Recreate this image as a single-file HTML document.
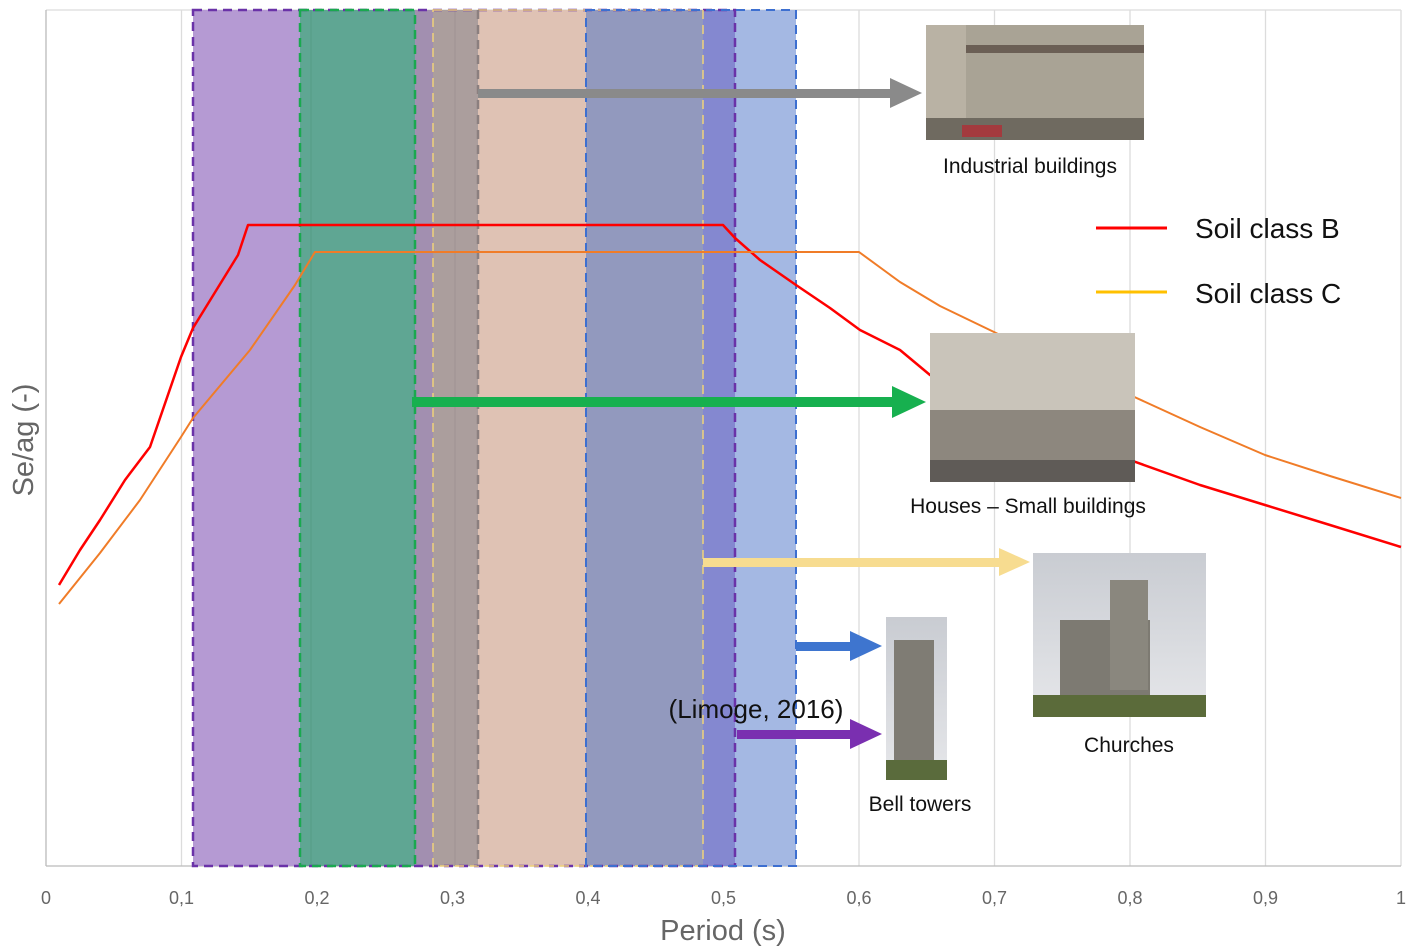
<!DOCTYPE html>
<html><head><meta charset="utf-8"><style>
html,body{margin:0;padding:0;background:#fff;}
svg{display:block;font-family:"Liberation Sans",sans-serif;}
</style></head><body>
<svg width="1417" height="949" viewBox="0 0 1417 949">
<defs>
<linearGradient id="sky" x1="0" y1="0" x2="0" y2="1"><stop offset="0" stop-color="#c9ccd2"/><stop offset="1" stop-color="#e6e7ea"/></linearGradient>
</defs>
<g stroke="#dcdcdc" stroke-width="1.3">
<line x1="46" y1="10" x2="1401" y2="10"/>
<line x1="181.5" y1="10" x2="181.5" y2="866"/><line x1="317" y1="10" x2="317" y2="866"/>
<line x1="452.5" y1="10" x2="452.5" y2="866"/><line x1="588" y1="10" x2="588" y2="866"/>
<line x1="723.5" y1="10" x2="723.5" y2="866"/><line x1="859" y1="10" x2="859" y2="866"/>
<line x1="994.5" y1="10" x2="994.5" y2="866"/><line x1="1130" y1="10" x2="1130" y2="866"/>
<line x1="1265.5" y1="10" x2="1265.5" y2="866"/><line x1="1401" y1="10" x2="1401" y2="866"/>
</g>
<line x1="46" y1="10" x2="46" y2="866" stroke="#bbb" stroke-width="1.3"/>
<line x1="46" y1="866" x2="1401" y2="866" stroke="#bbb" stroke-width="1.3"/>
<rect x="193" y="10" width="107" height="856" fill="#b59ad3"/>
<rect x="300" y="10" width="115" height="856" fill="#5fa693"/>
<rect x="415" y="10" width="18" height="856" fill="#a28fb0"/>
<rect x="433" y="10" width="45" height="856" fill="#ab9e9d"/>
<rect x="478" y="10" width="108" height="856" fill="#dfc2b4"/>
<rect x="586" y="10" width="117" height="856" fill="#9299be"/>
<rect x="703" y="10" width="32" height="856" fill="#8488d0"/>
<rect x="735" y="10" width="61" height="856" fill="#a4b8e3"/>
<line x1="311" y1="10" x2="311" y2="866" stroke="#549c85" stroke-width="1"/>
<line x1="455" y1="10" x2="455" y2="866" stroke="#9f9393" stroke-width="1"/>
<g fill="none" stroke-width="2.5" stroke-dasharray="9,6">
<rect x="193" y="10" width="542" height="856" stroke="#6a32a8"/>
<rect x="300" y="10" width="115" height="856" stroke="#1aa84f"/>
<rect x="433" y="10" width="270" height="856" stroke="#f0d27a" stroke-width="1.5"/>
<line x1="478" y1="10" x2="478" y2="866" stroke="#8b7f7f"/>
<rect x="586" y="10" width="210" height="856" stroke="#3d6fd0" stroke-width="2"/>
</g>
<polyline fill="none" stroke="#ff0000" stroke-width="2.5" stroke-linejoin="round" points="59,585 80,550 100,520 125,480 150,447 181,357 193,328 238,255 248,225 723,225 735,238 760,260 796,285 830,308 860,330 900,350 930,375 994,405 1050,432 1130,460 1200,485 1265,505 1330,525 1401,547"/>
<polyline fill="none" stroke="#f07c28" stroke-width="2" stroke-linejoin="round" points="59,604 100,553 140,500 181,437 193,418 250,350 295,285 315,252 859,252 900,282 940,306 994,332 1060,365 1130,395 1200,427 1265,455 1330,476 1401,498"/>
<g>
<rect x="478" y="89" width="418" height="9" fill="#8a8a8a"/><polygon points="890,78 922,93 890,108" fill="#8a8a8a"/>
<rect x="412" y="397" width="486" height="10" fill="#17b04f"/><polygon points="892,386 926,402 892,418" fill="#17b04f"/>
<rect x="703" y="558" width="300" height="9" fill="#f7dc90"/><polygon points="999,548 1030,562 999,576" fill="#f7dc90"/>
<rect x="796" y="642" width="56" height="9" fill="#3e75cf"/><polygon points="850,631 882,646 850,661" fill="#3e75cf"/>
<rect x="737" y="730" width="115" height="9" fill="#7a2fb0"/><polygon points="850,719 882,734 850,749" fill="#7a2fb0"/>
</g>
<g>
<rect x="926" y="25" width="218" height="115" fill="#a9a395"/>
<rect x="926" y="25" width="40" height="115" fill="#b9b2a4"/>
<rect x="966" y="45" width="178" height="8" fill="#6b5f55"/>
<rect x="926" y="118" width="218" height="22" fill="#6f6a60"/>
<rect x="962" y="125" width="40" height="12" fill="#a33a3e"/>
<rect x="930" y="333" width="205" height="149" fill="#c9c4ba"/>
<rect x="930" y="410" width="205" height="72" fill="#8d877e"/>
<rect x="930" y="460" width="205" height="22" fill="#5f5b57"/>
<rect x="1033" y="553" width="173" height="164" fill="url(#sky)"/>
<rect x="1060" y="620" width="90" height="80" fill="#7d7a72"/>
<rect x="1110" y="580" width="38" height="110" fill="#8a877e"/>
<rect x="1033" y="695" width="173" height="22" fill="#5b6b3a"/>
<rect x="886" y="617" width="61" height="163" fill="url(#sky)"/>
<rect x="894" y="640" width="40" height="125" fill="#7f7c74"/>
<rect x="886" y="760" width="61" height="20" fill="#5a6b3c"/>
</g>
<g font-size="21" fill="#111">
<text x="1030" y="173" text-anchor="middle">Industrial buildings</text>
<text x="1028" y="513" text-anchor="middle">Houses – Small buildings</text>
<text x="1129" y="752" text-anchor="middle">Churches</text>
<text x="920" y="811" text-anchor="middle">Bell towers</text>
<text x="756" y="718" text-anchor="middle" font-size="26">(Limoge, 2016)</text>
</g>
<line x1="1096" y1="228" x2="1167" y2="228" stroke="#ff0000" stroke-width="3"/>
<line x1="1096" y1="292" x2="1167" y2="292" stroke="#ffc000" stroke-width="3"/>
<text x="1195" y="238" font-size="28" fill="#111">Soil class B</text>
<text x="1195" y="303" font-size="28" fill="#111">Soil class C</text>
<g font-size="18" fill="#666" text-anchor="middle">
<text x="46" y="904">0</text><text x="181.5" y="904">0,1</text><text x="317" y="904">0,2</text>
<text x="452.5" y="904">0,3</text><text x="588" y="904">0,4</text><text x="723.5" y="904">0,5</text>
<text x="859" y="904">0,6</text><text x="994.5" y="904">0,7</text><text x="1130" y="904">0,8</text>
<text x="1265.5" y="904">0,9</text><text x="1401" y="904">1</text>
</g>
<text x="723" y="940" font-size="29" fill="#666" text-anchor="middle">Period (s)</text>
<text transform="translate(33,440) rotate(-90)" font-size="29" fill="#666" text-anchor="middle">Se/ag (-)</text>
</svg>
</body></html>
